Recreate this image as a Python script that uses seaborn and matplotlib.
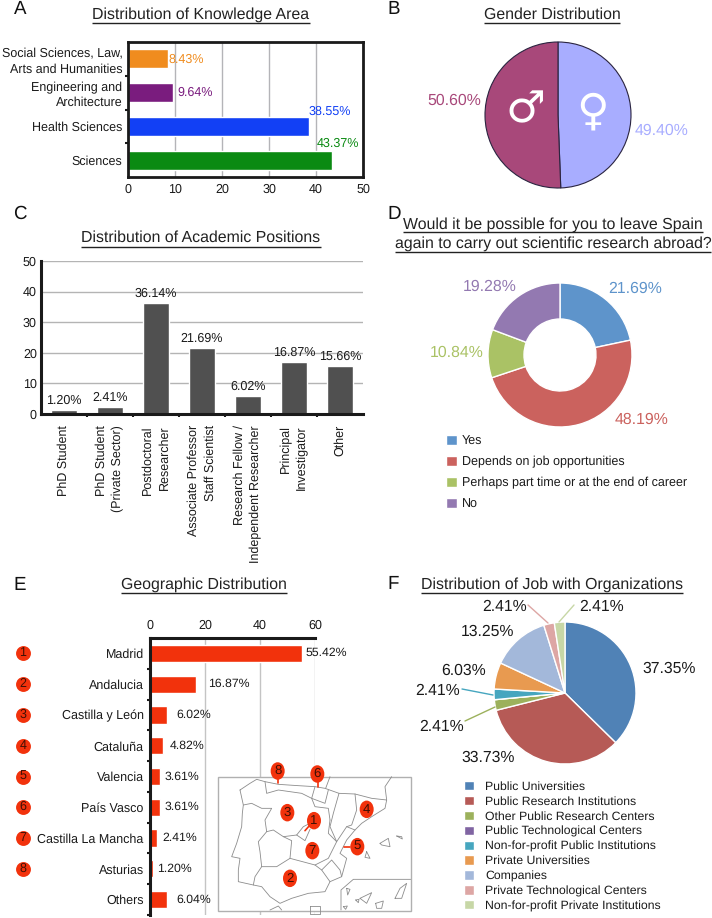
import matplotlib
matplotlib.use('Agg')
import matplotlib.pyplot as plt
from matplotlib.patches import Ellipse
import seaborn as sns

sns.set_theme(style='white')
plt.rcParams['font.family'] = ['Liberation Sans', 'DejaVu Sans']
plt.rcParams['text.color'] = '#1a1a1a'
plt.rcParams['xtick.color'] = '#1a1a1a'
plt.rcParams['ytick.color'] = '#1a1a1a'
plt.rcParams['text.hinting'] = 'no_hinting'

W, H = 712, 918

# A
area_names = ['Social Sciences, Law,\nArts and Humanities', 'Engineering and\nArchitecture', 'Health Sciences', 'Sciences']
area_values = [8.43, 9.64, 38.55, 43.37]
area_colors = ['#F08C1E', '#7A1C7E', '#1240F5', '#0A8A12']

# B
gender_names = ['Female', 'Male']
gender_values = [49.40, 50.60]
gender_colors = ['#A8ADFF', '#A8487A']

# C
position_names = ['PhD Student', 'PhD Student\n(Private Sector)', 'Postdoctoral\nResearcher',
                  'Associate Professor\nStaff Scientist', 'Research Fellow /\nIndependent Researcher',
                  'Principal\nInvestigator', 'Other']
position_values = [1.20, 2.41, 36.14, 21.69, 6.02, 16.87, 15.66]

# D
abroad_names = ['Yes', 'Depends on job opportunities', 'Perhaps part time or at the end of career', 'No']
abroad_values = [21.69, 48.19, 10.84, 19.28]
abroad_colors = ['#5E94CB', '#CB625E', '#AAC265', '#9379B1']

# E
region_names = ['Madrid', 'Andalucia', 'Castilla y León', 'Cataluña', 'Valencia', 'País Vasco',
                'Castilla La Mancha', 'Asturias', 'Others']
region_values = [55.42, 16.87, 6.02, 4.82, 3.61, 3.61, 2.41, 1.20, 6.04]

# F
job_names = ['Public Universities', 'Public Research Institutions', 'Other Public Research Centers',
             'Public Technological Centers', 'Non-for-profit Public Institutions', 'Private Universities',
             'Companies', 'Private Technological Centers', 'Non-for-profit Private Institutions']
job_values = [37.35, 33.73, 2.41, 0, 2.41, 6.03, 13.25, 2.41, 2.41]
job_colors = ['#5082B6', '#B65A56', '#9CB15C', '#8064A2', '#46A6BF', '#E89A50', '#A3B8DA', '#DDA6A4', '#C7D7A6']

# map of Spain (crop coordinates, 3x)
map_lines = [
    [(75, 60), (105, 40), (125, 28), (150, 35), (190, 43), (250, 47), (300, 50), (330, 55), (372, 70), (420, 72),
     (470, 85), (515, 90), (510, 115), (470, 140), (440, 160), (420, 180), (395, 210), (375, 250), (395, 265),
     (380, 320), (345, 335), (330, 365), (280, 370), (230, 385), (195, 400), (165, 380), (140, 350), (115, 345),
     (70, 335), (70, 300), (75, 265), (50, 260), (65, 220), (80, 170), (82, 130), (85, 105), (75, 60)],
    [(85, 105), (110, 100), (140, 115), (170, 115), (150, 150), (155, 185), (130, 215), (135, 245), (140, 290),
     (120, 320), (115, 345)],
    [(155, 185), (175, 180), (205, 200), (245, 195), (265, 170), (285, 160)],
    [(245, 195), (270, 212), (285, 178)],
    [(205, 200), (230, 212), (225, 265), (300, 285), (340, 265), (365, 215), (340, 190), (345, 150)],
    [(140, 290), (185, 290), (225, 265)],
    [(300, 285), (320, 300), (345, 335)],
    [(320, 300), (350, 270), (375, 300), (380, 320)],
    [(365, 215), (395, 170), (420, 180)],
    [(372, 70), (355, 130), (345, 170), (365, 215)],
    [(420, 72), (425, 120), (410, 165), (395, 170)],
    [(150, 35), (155, 70), (190, 60), (260, 70), (290, 85), (300, 110), (340, 115), (345, 150)],
    [(300, 50), (290, 85), (330, 100), (340, 60)],
    [(495, 220), (520, 205), (525, 230), (500, 225), (495, 220)],
    [(545, 198), (560, 200), (562, 207), (545, 198)],
    [(455, 245), (465, 265), (450, 262), (455, 245)],
    [(378, 420), (378, 360), (415, 328), (587, 328)],
    [(395, 355), (405, 358), (398, 375), (395, 355)],
    [(435, 385), (470, 368), (455, 400), (435, 385)],
    [(482, 400), (505, 393), (500, 415), (485, 415), (482, 400)],
    [(422, 390), (432, 388), (430, 398), (422, 390)],
    [(540, 385), (555, 355), (575, 340), (560, 385), (540, 385)],
    [(385, 410), (397, 408), (392, 418), (385, 410)],
    [(165, 420), (190, 408), (200, 420)],
    [(285, 408), (315, 408), (315, 432), (285, 432), (285, 408)],
    [(530, 20), (510, 50), (515, 90)],
    [(345, 20), (332, 55)],
]
pin_numbers = [1, 2, 3, 4, 5, 6, 7, 8]
pin_spots = [(297, 152), (225, 325), (217, 128), (455, 118), (427, 230), (307, 12), (292, 242), (188, 3)]
pin_stems = [[(285, 165), (270, 182)], [(405, 232), (387, 232)], [(308, 30), (308, 52)], [(188, 20), (188, 40)]]
list_numbers = [1, 2, 3, 4, 5, 6, 7, 8]


def box(left, top, right, bottom):
    return fig.add_axes([left / W, 1 - bottom / H, (right - left) / W, (bottom - top) / H])


def map_xy(p):
    return 215 + p[0] / 3, 770 + p[1] / 3


def pct(v):
    return f'{v:.2f}%'


fig = plt.figure(figsize=(W / 100, H / 100), dpi=100)

# A
ax = box(128, 42, 363, 177)
sns.barplot(x=area_values, y=area_names, hue=area_names, palette=area_colors, legend=False,
            orient='h', width=0.57, saturation=1, ax=ax)
ax.set_xlim(0, 50)
ax.set_xticks(range(0, 51, 10))
ax.grid(axis='x', color='#b4b4b8', lw=1)
ax.set_axisbelow(True)
ax.set_yticks([0.5, 1.5, 2.5], minor=True)
ax.tick_params(axis='y', which='minor', length=2, width=1.5, color='k', left=True)
ax.tick_params(axis='y', which='major', length=0, labelsize=9, pad=4)
ax.tick_params(axis='x', length=0, labelsize=9, pad=5)
ax.set_yticks(range(4))
ax.set_yticklabels(area_names, linespacing=1.3)
for s in ax.spines.values():
    s.set_linewidth(2)
    s.set_color('k')

# C
ax = box(41, 261, 363, 414)
sns.barplot(x=position_names, y=position_values, color='#505050', width=0.57, saturation=1, ax=ax)
ax.set_xlim(-0.5, 6.5)
ax.set_ylim(0, 50)
ax.set_yticks(range(0, 51, 10))
ax.grid(axis='y', color='#b4b4b4', lw=1)
ax.set_axisbelow(True)
sns.despine(ax=ax)
for s in ['left', 'bottom']:
    ax.spines[s].set_linewidth(2.2)
    ax.spines[s].set_color('k')
ax.tick_params(axis='y', length=0, labelsize=9, pad=3)
ax.tick_params(axis='x', length=0, labelsize=9, pad=8)
ax.set_xticks(range(7))
ax.set_xticklabels(position_names, rotation=90, ha='center', va='top', ma='right', linespacing=1.42)
ax.set_xticks([0.5, 1.5, 2.5, 3.5, 4.5, 5.5], minor=True)
ax.tick_params(axis='x', which='minor', length=2, width=1.5, color='k', bottom=True)
for i, v in enumerate(position_values):
    ax.text(i, v + 1.1, pct(v), ha='center', va='bottom', fontsize=9)

# E
ax = box(150, 638, 315, 915)
sns.barplot(x=region_values, y=region_names, color='#F2320C', orient='h', width=0.56, saturation=1, ax=ax)
ax.set_xlim(0, 60)
ax.set_xticks(range(0, 61, 20))
ax.xaxis.tick_top()
ax.grid(axis='x', color='#c4c4c4', lw=1)
ax.set_axisbelow(True)
for s in ['right', 'bottom']:
    ax.spines[s].set_visible(False)
for s in ['left', 'top']:
    ax.spines[s].set_linewidth(2.2)
    ax.spines[s].set_color('k')
ax.set_yticks([i + 0.5 for i in range(9)], minor=True)
ax.tick_params(axis='y', which='minor', length=2, width=1.5, color='k', left=True)
ax.tick_params(axis='y', which='major', length=0, labelsize=9, pad=4.5)
ax.tick_params(axis='x', length=0, labelsize=9, pad=4.5)

# B
ax = box(485, 42, 631, 188)
ax.pie(gender_values, colors=gender_colors, startangle=90, counterclock=False,
       wedgeprops=dict(edgecolor='#2a2440', linewidth=0.8))
ax.set_xlim(-1, 1)
ax.set_ylim(-1, 1)

# D
ax = box(488, 283, 632, 427)
wedges, _ = ax.pie(abroad_values, colors=abroad_colors, startangle=90, counterclock=False,
                   wedgeprops=dict(width=0.5))
ax.set_xlim(-1, 1)
ax.set_ylim(-1, 1)
fig.legend(wedges, abroad_names, loc='upper left', bbox_to_anchor=(446 / W, 1 - 435 / H), frameon=False,
           fontsize=9, borderpad=0, borderaxespad=0, handlelength=0.85, handleheight=0.85,
           handletextpad=0.4, labelspacing=0.72)

# F
ax = box(494, 622, 636, 764)
wedges, _ = ax.pie(job_values, colors=job_colors, startangle=90, counterclock=False)
ax.set_xlim(-1, 1)
ax.set_ylim(-1, 1)
fig.legend(wedges, job_names, loc='upper left', bbox_to_anchor=(464 / W, 1 - 781 / H), frameon=False,
           fontsize=8.8, borderpad=0, borderaxespad=0, handlelength=0.8, handleheight=0.8,
           handletextpad=0.95, labelspacing=0.285)

# everything else sits on a top layer in picture pixels
top = fig.add_axes([0, 0, 1, 1], facecolor='none')
top.set_xlim(0, W)
top.set_ylim(H, 0)
top.axis('off')

for t, x, y in [('A', 20, 9), ('B', 394, 9), ('C', 20, 214), ('D', 394, 214), ('E', 20, 585), ('F', 393, 584)]:
    top.text(x, y, t, fontsize=13.5, ha='center', va='center', color='#111111')


def title(txt, x, y, under, size=11.4):
    t = top.text(x, y, txt, fontsize=size, ha='center', va='center', color='#222222')
    bb = t.get_window_extent(fig.canvas.get_renderer())
    top.plot([bb.x0, bb.x1], [under, under], color='#222222', lw=1, solid_capstyle='butt')


title('Distribution of Knowledge Area', 201, 15, 23)
title('Gender Distribution', 552, 15, 23)
title('Distribution of Academic Positions', 201, 238, 247)
title('Would it be possible for you to leave Spain', 553, 225, 232, 11.45)
title('again to carry out scientific research abroad?', 553, 244, 252, 11.45)
title('Geographic Distribution', 204, 585, 593)
title('Distribution of Job with Organizations', 552, 585, 593)

# A labels
for v, c, x, y in zip(area_values, area_colors, [168, 177, 309, 317], [60, 93, 112, 144]):
    top.text(x, y, pct(v), color=c, fontsize=9, ha='left', va='center')

# B labels and symbols
top.text(454, 101, pct(gender_values[1]), color=gender_colors[1], fontsize=11.4, ha='center', va='center')
top.text(662, 131, pct(gender_values[0]), color=gender_colors[0], fontsize=11.4, ha='center', va='center')
top.text(525, 110, '\u2642', color='white', fontsize=32, ha='center', va='center', family='DejaVu Sans')
top.text(592, 112, '\u2640', color='white', fontsize=32, ha='center', va='center', family='DejaVu Sans')

# D labels
for v, c, x, y in zip(abroad_values, abroad_colors, [635, 642, 457, 490], [289, 420, 353, 287]):
    top.text(x, y, pct(v), color=c, fontsize=11.4, ha='center', va='center')

# E labels and numbered dots
row_y = [653, 684, 715, 746, 777, 807, 838, 869, 900]
for v, x, y in zip(region_values, [306, 208, 176, 170, 165, 165, 162, 157, 176], row_y):
    top.text(x, y, pct(v), fontsize=8.8, ha='left', va='center')
for n, y in zip(list_numbers, row_y):
    top.scatter([23], [y], s=115, color='#F2320C', linewidths=0, zorder=3)
    top.text(23, y, str(n), fontsize=9, ha='center', va='center', color='#401005', zorder=4)

# map
x0, y0 = map_xy((10, 20))
x1, y1 = map_xy((587, 423))
top.fill([x0, x1, x1, x0], [y0, y0, y1, y1], facecolor='white', edgecolor='#b0b0b0', lw=1, zorder=2)
for line in map_lines:
    pts = [map_xy(p) for p in line]
    top.plot([p[0] for p in pts], [p[1] for p in pts], color='#8c8c8c', lw=0.6, zorder=2.5)
for line in pin_stems:
    pts = [map_xy(p) for p in line]
    top.plot([p[0] for p in pts], [p[1] for p in pts], color='#F2320C', lw=1.2, zorder=3)
for n, p in zip(pin_numbers, pin_spots):
    x, y = map_xy(p)
    top.add_patch(Ellipse((x, y), 14, 17.5, facecolor='#F2320C', edgecolor='none', zorder=3))
    top.text(x, y, str(n), fontsize=9.5, ha='center', va='center', color='#401005', zorder=4)

# F labels and leaders
job_label_x = [669, 488, 442, 438, 464, 488, 505, 602]
job_label_y = [669, 758, 727, 691, 671, 632, 607, 607]
shown = [v for v in job_values if v > 0]
for v, x, y in zip(shown, job_label_x, job_label_y):
    top.text(x, y, pct(v), fontsize=11.3, ha='center', va='center')
for c, a, b in [(job_colors[2], (465, 721), (495, 707)), (job_colors[4], (462, 689), (493, 695)),
                (job_colors[7], (528, 605), (548, 623)), (job_colors[8], (574, 605), (559, 622))]:
    top.plot([a[0], b[0]], [a[1], b[1]], color=c, lw=1)

fig.savefig('out.png', dpi=100)
